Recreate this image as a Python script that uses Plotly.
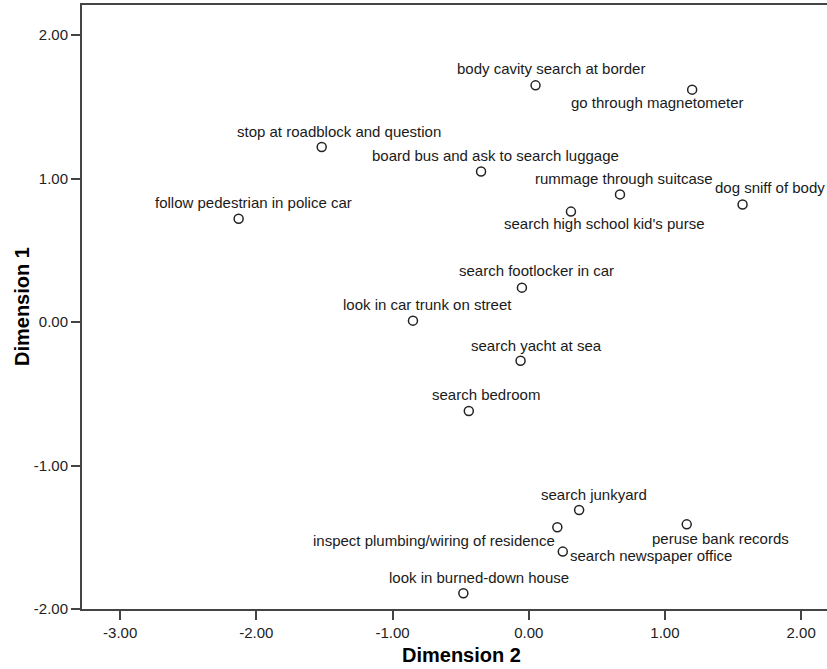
import plotly.graph_objects as go

labels = [
    "body cavity search at border", "go through magnetometer",
    "stop at roadblock and question", "board bus and ask to search luggage",
    "rummage through suitcase", "dog sniff of body",
    "search high school kid's purse", "follow pedestrian in police car",
    "search footlocker in car", "look in car trunk on street",
    "search yacht at sea", "search bedroom", "search junkyard",
    "inspect plumbing/wiring of residence", "peruse bank records",
    "search newspaper office", "look in burned-down house",
]
dim2 = [0.05, 1.20, -1.52, -0.35, 0.67, 1.57, 0.31, -2.13, -0.05, -0.85,
        -0.06, -0.44, 0.37, 0.21, 1.16, 0.25, -0.48]
dim1 = [1.65, 1.62, 1.22, 1.05, 0.89, 0.82, 0.77, 0.72, 0.24, 0.01,
        -0.27, -0.62, -1.31, -1.43, -1.41, -1.60, -1.89]

x_tickvals = [-3, -2, -1, 0, 1, 2]
x_ticktext = ["-3.00", "-2.00", "-1.00", "0.00", "1.00", "2.00"]
y_tickvals = [-2, -1, 0, 1, 2]
y_ticktext = ["-2.00", "-1.00", "0.00", "1.00", "2.00"]

# label placement (pixel shifts, anchor) – styling only
label_place = [
    (15, 17, "center"), (-35, -13, "center"), (17, 16, "center"),
    (14, 16, "center"), (4, 16, "center"), (27, 17, "center"),
    (33, -12, "center"), (15, 16, "center"), (15, 17, "center"),
    (15, 16, "center"), (16, 15, "center"), (17, 17, "center"),
    (15, 16, "center"), (0, -13, "right"), (34, -14, "center"),
    (5, -4, "left"), (16, 16, "center"),
]

FONT = "Arial, Liberation Sans, sans-serif"

fig = go.Figure()
fig.add_trace(go.Scatter(
    x=dim2, y=dim1, mode="markers",
    marker=dict(symbol="circle-open", size=9, color="#222222",
                line=dict(width=1.5, color="#222222")),
    hoverinfo="text", text=labels, showlegend=False, cliponaxis=False,
))

for lab, xv, yv, (dx, dy, anc) in zip(labels, dim2, dim1, label_place):
    fig.add_annotation(x=xv, y=yv, text=lab, showarrow=False,
                       xshift=dx, yshift=dy, xanchor=anc, yanchor="middle",
                       font=dict(family=FONT, size=15, color="#1a1a1a"))

fig.add_annotation(text="<b>Dimension 2</b>", xref="paper", yref="paper",
                   x=0.509, y=0, yshift=-46, xanchor="center", yanchor="middle",
                   showarrow=False, font=dict(family=FONT, size=20, color="#000"))
fig.add_annotation(text="<b>Dimension 1</b>", xref="paper", yref="paper",
                   x=0, xshift=-60, y=0.5, textangle=-90, xanchor="center",
                   yanchor="middle", showarrow=False,
                   font=dict(family=FONT, size=20, color="#000"))

axis_common = dict(showgrid=False, zeroline=False, showline=True,
                   linecolor="#444444", linewidth=2, ticks="outside",
                   ticklen=9, tickwidth=2, tickcolor="#444444",
                   tickfont=dict(family=FONT, size=15, color="#222222"))

fig.update_layout(
    width=827, height=669,
    margin=dict(l=82, r=0, t=5, b=60),
    paper_bgcolor="white", plot_bgcolor="white",
    xaxis=dict(range=[-3.28, 2.19], tickvals=x_tickvals, ticktext=x_ticktext,
               mirror=True, **axis_common),
    yaxis=dict(range=[-2.0, 2.21], tickvals=y_tickvals, ticktext=y_ticktext,
               **axis_common),
)

fig.write_html("out.html", config={"displayModeBar": False},
               post_script="document.body.style.margin='0';")
